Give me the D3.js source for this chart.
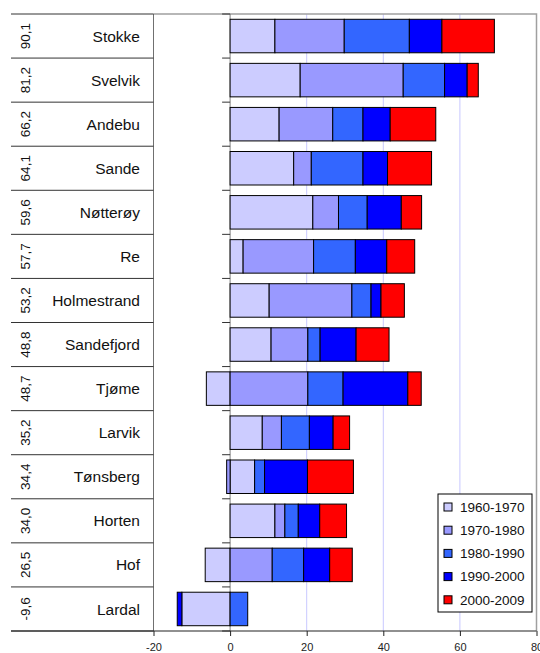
<!DOCTYPE html>
<html>
<head>
<meta charset="utf-8">
<script src="https://cdn.jsdelivr.net/npm/d3@7"></script>
<style>
  body { margin: 0; background: #fff; }
  svg { font-family: "Liberation Sans", Arial, sans-serif; }
</style>
</head>
<body>
<svg></svg>
<script>
// kommuner, sortert etter total vekst
const municipalities = ['Stokke', 'Svelvik', 'Andebu', 'Sande', 'Nøtterøy', 'Re', 'Holmestrand',
    'Sandefjord', 'Tjøme', 'Larvik', 'Tønsberg', 'Horten', 'Hof', 'Lardal'];
const totals = ['90,1', '81,2', '66,2', '64,1', '59,6', '57,7', '53,2', '48,8', '48,7', '35,2',
    '34,4', '34,0', '26,5', '-9,6'];
const periods = ['1960-1970', '1970-1980', '1980-1990', '1990-2000', '2000-2009'];
const v1960 = [11.7, 18.3, 12.8, 16.6, 21.6, 3.4, 10.2, 10.7, -6.2, 8.4, 6.4, 11.7, -6.5, -12.6];
const v1970 = [18.1, 26.9, 14.0, 4.6, 6.7, 18.4, 21.6, 9.6, 20.3, 5.0, -0.9, 2.6, 11.0, 0];
const v1980 = [17.0, 10.8, 7.9, 13.5, 7.5, 10.9, 5.0, 3.2, 9.2, 7.3, 2.6, 3.5, 8.2, 4.6];
const v1990 = [8.5, 5.9, 7.1, 6.4, 8.9, 8.2, 2.6, 9.4, 16.9, 6.2, 11.2, 5.6, 6.8, -1.2];
const v2000 = [13.7, 2.9, 11.9, 11.5, 5.3, 7.3, 6.1, 8.6, 3.5, 4.3, 12.0, 7.0, 5.9, 0];
const xTicks = [-20, 0, 20, 40, 60, 80];
const colors = ['#ccccff', '#9999ff', '#3366ff', '#0000ff', '#ff0000'];

const size = {w: 540, h: 653};
const plot = {t: 14, b: 631, l: 153.5, r: 536.5};
const tableLeft = 11;

const svg = d3.select('svg')
    .attr('width', size.w)
    .attr('height', size.h);

// table of rows
const series = [v1960, v1970, v1980, v1990, v2000];
const rows = municipalities.map((m, i) => {
    let row = {name: m};
    periods.forEach((p, j) => row[p] = series[j][i]);
    return row;
});

const x = d3.scaleLinear().domain([-20, 80]).range([plot.l, plot.r]);
const y = d3.scaleBand().domain(municipalities).range([plot.t, plot.b])
    .paddingInner(0.24).paddingOuter(0.12);
const step = y.step();
const boundaries = d3.range(municipalities.length + 1).map(i => plot.t + i * step);

//gridlines
svg.append('g')
    .selectAll('line')
    .data([20, 40, 60])
    .join('line')
    .attr('x1', d => x(d)).attr('x2', d => x(d))
    .attr('y1', plot.t).attr('y2', plot.b)
    .attr('stroke', '#c8c8ff')
    .attr('stroke-width', 1);

// plot frame (top, right)
svg.append('path')
    .attr('d', `M${plot.l},${plot.t}H${plot.r}V${plot.b}`)
    .attr('fill', 'none')
    .attr('stroke', '#a0a0a0')
    .attr('stroke-width', 1.5);
// left edge, darker
svg.append('line')
    .attr('x1', plot.l).attr('x2', plot.l)
    .attr('y1', plot.t).attr('y2', plot.b)
    .attr('stroke', '#707070');

// vertical axis at 0
svg.append('line')
    .attr('x1', x(0)).attr('x2', x(0))
    .attr('y1', plot.t).attr('y2', plot.b)
    .attr('stroke', '#808080');

svg.append('g')
    .selectAll('line')
    .data(boundaries)
    .join('line')
    .attr('x1', x(0) - 8).attr('x2', x(0))
    .attr('y1', d => d).attr('y2', d => d)
    .attr('stroke', '#333');

// table lines on the left
svg.append('g')
    .selectAll('line')
    .data(boundaries)
    .join('line')
    .attr('x1', tableLeft).attr('x2', plot.l)
    .attr('y1', d => d).attr('y2', d => d)
    .attr('stroke', '#333')
    .attr('stroke-width', 1);

// stacked bars
const stacked = d3.stack()
    .keys(periods)
    .offset(d3.stackOffsetDiverging)(rows);

svg.append('g')
    .selectAll('g')
    .data(stacked)
    .join('g')
    .attr('fill', (d, i) => colors[i])
    .selectAll('rect')
    .data(d => d.filter(s => s[1] !== s[0]))
    .join('rect')
    .attr('x', d => x(Math.min(d[0], d[1])))
    .attr('width', d => Math.abs(x(d[1]) - x(d[0])))
    .attr('y', d => y(d.data.name))
    .attr('height', y.bandwidth())
    .attr('stroke', '#000')
    .attr('stroke-width', 1);

// x axis
const xAxis = svg.append('g')
    .attr('transform', `translate(0,${plot.b})`)
    .call(d3.axisBottom(x).tickValues(xTicks).tickSize(5).tickSizeOuter(0).tickFormat(d => d));
xAxis.select('.domain').remove();
xAxis.selectAll('line').attr('stroke', '#222');
xAxis.selectAll('text')
    .attr('font-size', 11)
    .attr('font-family', '"Liberation Sans", Arial, sans-serif')
    .attr('fill', '#222')
    .attr('dy', '1.1em');
svg.append('line')
    .attr('x1', tableLeft).attr('x2', plot.r)
    .attr('y1', plot.b).attr('y2', plot.b)
    .attr('stroke', '#222')
    .attr('stroke-width', 1.2);

// names and totals
svg.append('g')
    .selectAll('text')
    .data(municipalities)
    .join('text')
    .attr('x', 140)
    .attr('y', d => y(d) + y.bandwidth() / 2)
    .attr('dy', '0.36em')
    .attr('text-anchor', 'end')
    .attr('font-size', 15.5)
    .attr('fill', '#111')
    .text(d => d);

svg.append('g')
    .selectAll('text')
    .data(totals)
    .join('text')
    .attr('transform', (d, i) => `translate(30,${y(municipalities[i]) + y.bandwidth() / 2}) rotate(-90)`)
    .attr('text-anchor', 'middle')
    .attr('font-size', 13.5)
    .attr('fill', '#111')
    .text(d => d);

// legend
const legend = svg.append('g').attr('transform', 'translate(438,494)');
legend.append('rect')
    .attr('width', 94).attr('height', 118)
    .attr('fill', '#fff')
    .attr('stroke', '#000');
const items = legend.selectAll('g')
    .data(periods)
    .join('g')
    .attr('transform', (d, i) => `translate(0,${13 + i * 23.2})`);
items.append('rect')
    .attr('x', 6).attr('y', -4)
    .attr('width', 8).attr('height', 8)
    .attr('fill', (d, i) => colors[i])
    .attr('stroke', '#000');
items.append('text')
    .attr('x', 22).attr('dy', '0.36em')
    .attr('font-size', 13.5)
    .attr('fill', '#111')
    .text(d => d);
</script>
</body>
</html>
